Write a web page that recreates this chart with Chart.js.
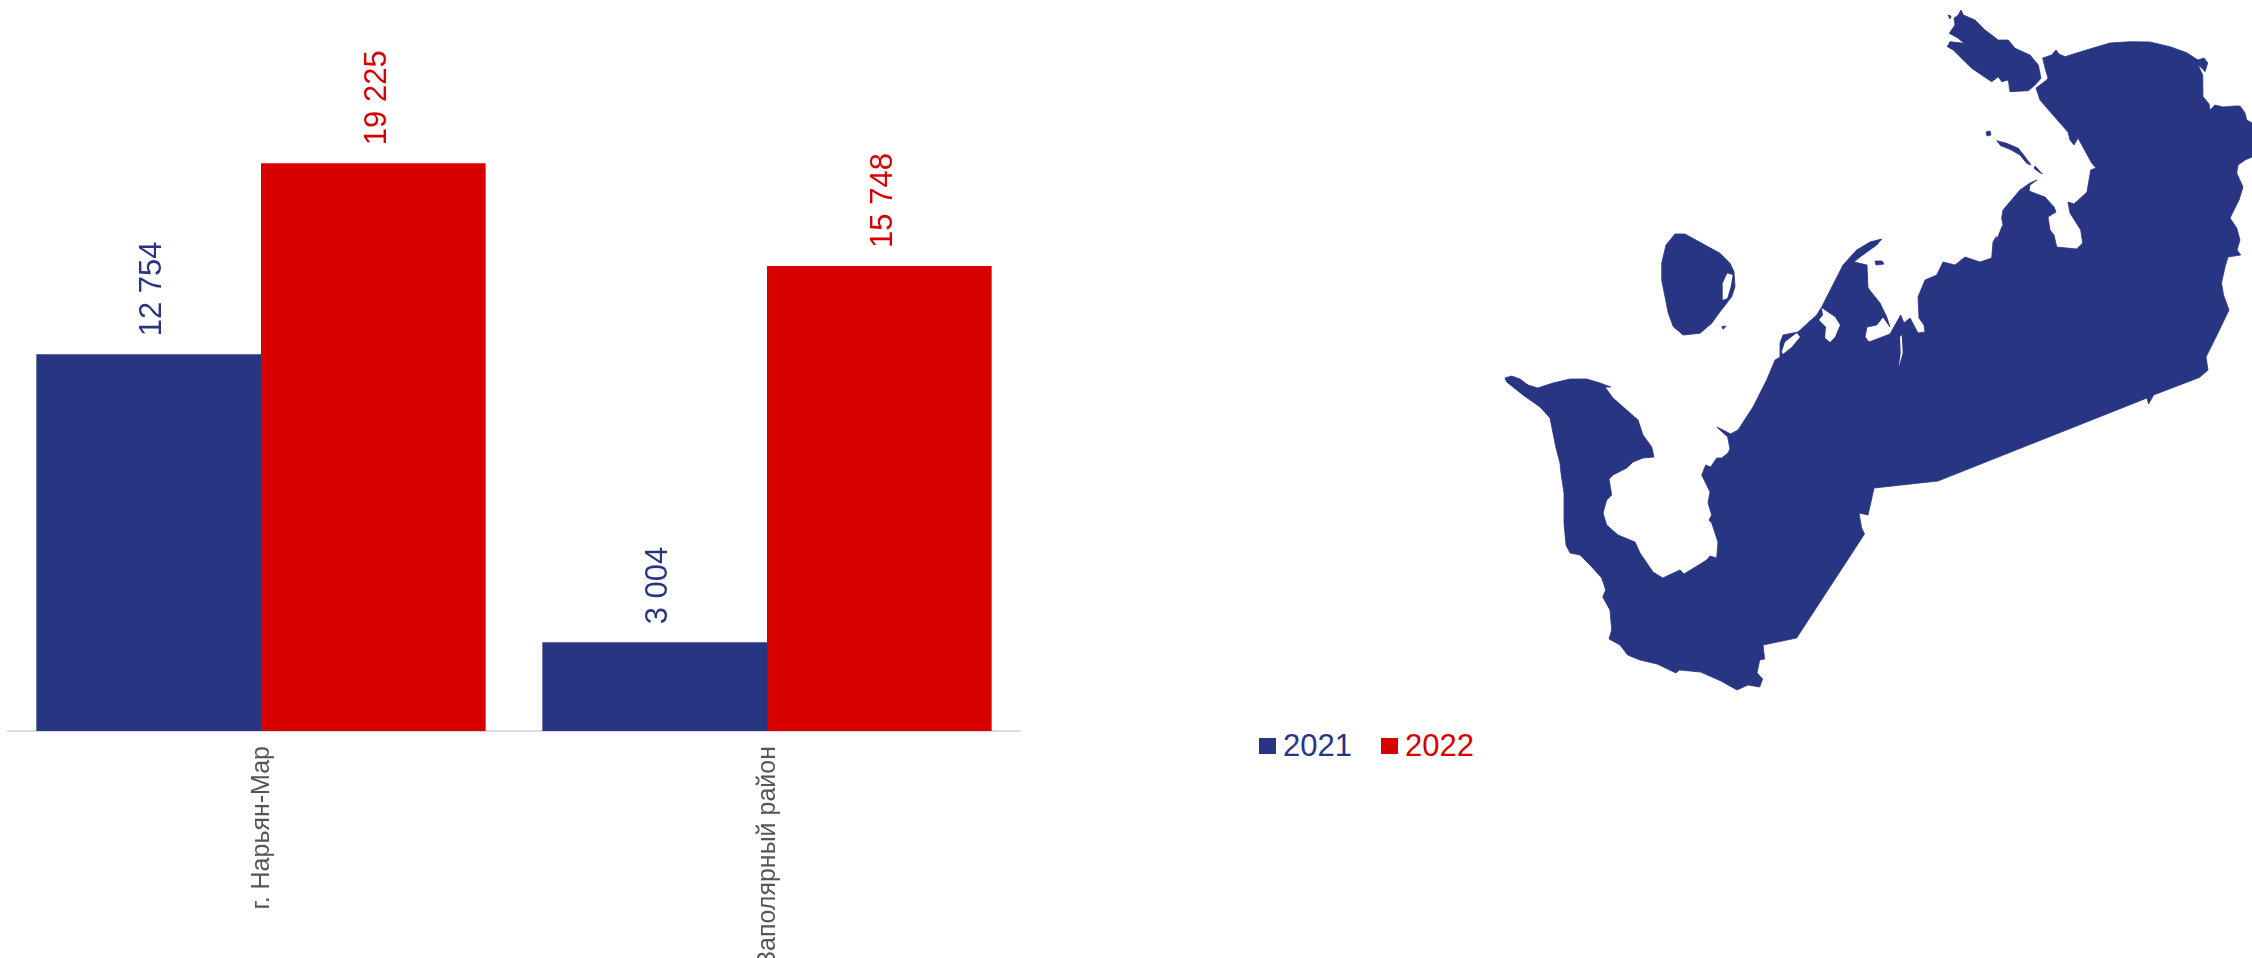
<!DOCTYPE html>
<html lang="ru">
<head>
<meta charset="utf-8">
<title>Нарьян-Мар и Заполярный район</title>
<script src="https://cdn.jsdelivr.net/npm/chart.js@4"></script>
<style>
  html, body { margin: 0; padding: 0; background: #fff; overflow: hidden; }
  #page { position: relative; width: 2252px; height: 958px; overflow: hidden; }
  #chart { position: absolute; left: 0; top: 0; }
  #map { position: absolute; left: 1480px; top: 0; width: 772px; height: 700px; }
  #legend {
    position: absolute; left: 1259px; top: 728px; display: flex; gap: 29px;
    font: 31px "Liberation Sans", Arial, sans-serif; line-height: 36px;
  }
  #legend span { display: flex; align-items: center; gap: 7px; }
  #legend i { display: block; width: 17px; height: 16px; }
</style>
</head>
<body>
<div id="page">
  <canvas id="chart" width="1030" height="958"></canvas>

  <!-- region silhouette, background picture only -->
  <svg id="map" viewBox="1480 0 772 700" style="filter: blur(0.5px)">
    <g fill="#283583" stroke="#283583" stroke-width="0.8" stroke-linejoin="round">
      <path d="M2036,88 L2046.7,80 2048,78 2045,68 2042.7,58 2051.7,55 2056,50 2059,54 2065,56.7 2076.7,53 2093,48 2110,43 2130,41.7 2150,42 2170,46.7 2186.7,52.7 2198,60 2204,58 2207.7,63 2205,71.7 2201.7,68 2198,65 2202.7,75 2203,96.7 2209,104 2210,110 2215,105 2223,107 2235,106 2240,106 2245,113 2246.7,120 2252,123 2252,157 2245,160 2238,165 2236.7,173 2243,187 2239,200 2235,208 2230,218 2236.7,228 2240,240 2237,250 2240.7,255 2228,257 2225,267 2221.5,283 2223.5,295 2229,310 2216,337 2206,357 2208,370 2200,377 2198,378 2153.6,395 2152,398 2148.6,404 2147,398 1938,481 1874,488 1871.4,500 1868,515 1859,513 1861.6,528 1864.5,534 1796.6,638 1763,645 1764.6,659 1759.7,660 1757,673 1762.6,679 1759.7,687 1748,685 1737,690 1721,681 1700.6,672 1679.4,670 1676,673 1657,664 1640,660 1627.7,655 1620,645 1609,639 1611.7,630 1610,610 1602.7,597 1605.7,590 1601.7,578 1590,565 1580,555 1570,553 1566,545 1564,523 1564,493 1561,473 1560,463 1556,448 1550,418 1540,407 1523,395 1506.7,382 1505,378 1511.7,376 1520,379 1528,385 1537.7,388 1553,383 1570,379 1586.7,379 1600,383 1610.7,387 1605,387 1613,398 1626.7,410 1638,420 1643,435 1651.7,447 1654,457 1643,458 1633,462 1626.7,468 1613,475 1609,479 1611.7,495 1606.7,500 1603,513 1606.7,525 1618,535 1635,542 1640,553 1653,572 1662.7,578 1680,570 1684,574 1706.7,560 1710,556 1716.7,558 1718,542 1711.7,523 1709,520 1711.7,515 1708,503 1710,492 1701.7,475 1705.7,465 1710.7,467 1716.7,458 1721.7,458 1728,453 1730,449 1727.7,437 1716.7,427 1723,430 1730.7,434 1738,430 1753,407 1766.7,380 1775,360 1780,357 1780,343 1783,335 1798,332 1816.7,315 1821.7,307 1843,265 1856.7,250 1870,242 1881.7,239 1876.7,245 1860,257 1854,262 1867,265 1868,288 1880,303 1886.7,317 1890,327 1883,317 1876.7,325 1867,327 1865,337 1869,342 1890,334 1895,325 1900.7,315 1904,323 1910,318 1918,333 1925,332 1924,325 1919,318 1918,297 1925,280 1936.7,275 1943,262 1955,265 1965,257 1980,262 1991.7,258 1993,242 2003,225 2001.7,218 2003,210 2020,190 2030,183 2037,180 2030,185 2029,191 2045,197 2054,207 2056,212 2048,217 2050,230 2054,235 2056.7,247 2076.7,249 2082.7,243 2080.7,230 2070,213 2068,202 2074,204 2087,192 2090.7,170 2096,168 2091.7,163 2078,138 2074,145 2070,140 2068,132 2053,115 2040,100 Z"/>
      <path d="M1675,234 L1685,234 1720,253.3 1730,263.3 1734,271.7 1735,286.7 1731.7,296.7 1726.7,303.3 1720,311.7 1711.7,323.3 1700,333.3 1683.3,335 1673.3,326.7 1668.3,313.3 1661.7,280 1661.7,263.3 1666,245 Z"/>
      <path d="M1961,10 L1963.3,15 1975,20 1985,30 1998.3,40 2008.3,40 2015,48.3 2030,55 2038.3,65 2041,78.3 2035,85 2028.3,90.7 2010,91.7 2008.3,80 2001.7,81.7 1998.3,76.7 1991.7,81.7 1985,77.3 1971.7,68.3 1960,56.7 1953.3,50 1947.3,46.7 1950,41.7 1964,43.3 1958.3,38.3 1949.3,33.3 1955,25 1954,18.3 1958.3,15 Z"/>
      <path d="M1948,15 L1951,16 1950,19 Z"/>
      <path d="M1996.7,140.7 L2006.7,143.3 2018.3,148.3 2025,156.7 2031,165 2026.7,163.3 2020,155 2010,149.3 2000.7,145.7 Z"/>
      <path d="M2035,166 L2042.3,174 2038.3,171.7 2034,168.3 Z"/>
      <path d="M1986,132 L1990,131 1991,135 1987,136 Z"/>
      <path d="M1875,261 L1882,261 1884,264 1876,265 Z"/>
      <path d="M1721.7,326.7 L1726,326 1723.3,329.3 Z"/>
    </g>
    <g fill="#fff">
      <path d="M1781.7,352 L1785,342 1796.7,333 1800,337 1791.7,347 1783,354 Z"/>
      <path d="M1821.7,308 L1835,317 1840,325 1835,337 1830,342 1825,338 1826,327 1819,320 1823,315 Z"/>
      <path d="M1901.7,335 L1902.7,353 1898.7,367 1900.7,353 1900,337 Z"/>
      <path d="M1727.3,273.3 L1732.7,275 1730.7,286.7 1727.3,298.3 1722.7,300 1722.7,283.3 Z"/>
      <path d="M1995,233 L2001,228 1997,238 Z"/>
    </g>
  </svg>

  <div id="legend"></div>
</div>

<script>
const categories = ["г. Нарьян-Мар", "Заполярный район"];
const values2021 = [12754, 3004];
const values2022 = [19225, 15748];

const NAVY = "#283583";
const RED = "#d90000";

// Thousands are split by a space, as in the source
function formatValue(v) {
  return String(v).replace(/\B(?=(\d{3})+$)/g, " ");
}

// Rotated value labels above each bar
const valueLabels = {
  id: "valueLabels",
  afterDatasetsDraw(chart) {
    const ctx = chart.ctx;
    chart.data.datasets.forEach((ds, i) => {
      chart.getDatasetMeta(i).data.forEach((bar, j) => {
        ctx.save();
        ctx.translate(bar.x + 4, bar.y - 18);
        ctx.rotate(-Math.PI / 2);
        ctx.font = '31px "Liberation Sans", Arial, sans-serif';
        ctx.fillStyle = ds.backgroundColor;
        ctx.textAlign = "left";
        ctx.textBaseline = "middle";
        ctx.fillText(formatValue(ds.data[j]), 0, 0);
        ctx.restore();
      });
    });
  },
};

const chart = new Chart(document.getElementById("chart"), {
  type: "bar",
  data: {
    labels: categories,
    datasets: [
      { label: "2021", data: values2021, backgroundColor: NAVY },
      { label: "2022", data: values2022, backgroundColor: RED },
    ],
  },
  options: {
    responsive: false,
    animation: false,
    layout: { padding: { left: 8, right: 10, top: 0, bottom: 0 } },
    datasets: { bar: { barPercentage: 1, categoryPercentage: 0.888, borderWidth: 0 } },
    plugins: { legend: { display: false }, tooltip: { enabled: false } },
    scales: {
      x: {
        grid: { display: false },
        border: { color: "#dddddd", width: 2 },
        ticks: {
          autoSkip: false,
          minRotation: 90,
          maxRotation: 90,
          padding: 7,
          labelOffset: 1,
          color: "#555555",
          font: { family: '"Liberation Sans", Arial, sans-serif', size: 25 },
        },
        // long labels run off the bottom edge, keep the plot height fixed
        afterFit(scale) {
          scale.height = 227;
        },
      },
      y: { display: false, min: 0, max: 24750 },
    },
  },
  plugins: [valueLabels],
});

// Legend sits away from the bars, so it is built from the datasets as HTML
const legend = document.getElementById("legend");
chart.data.datasets.forEach((ds) => {
  const item = document.createElement("span");
  item.style.color = ds.backgroundColor;
  const box = document.createElement("i");
  box.style.background = ds.backgroundColor;
  item.append(box, ds.label);
  legend.append(item);
});
</script>
</body>
</html>
